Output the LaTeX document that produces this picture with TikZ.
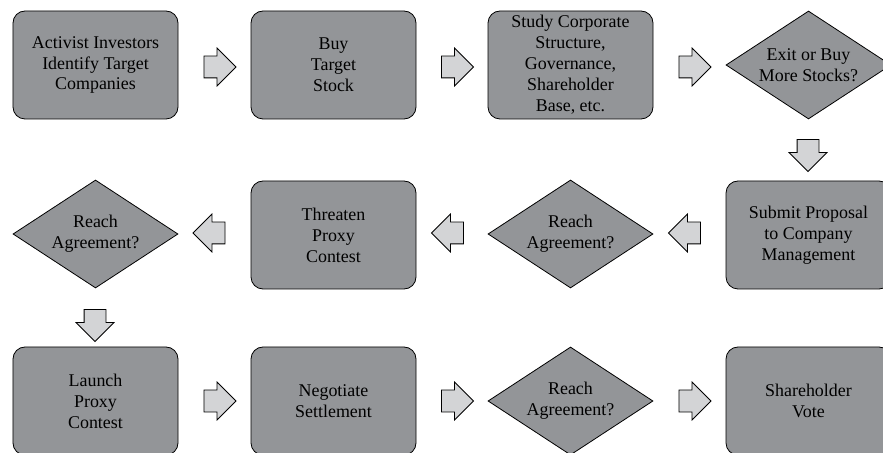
\documentclass[tikz,border=0pt]{standalone}
\usepackage{fontspec}
\setmainfont{Liberation Serif}
\usetikzlibrary{arrows,shapes}
\definecolor{boxgray}{RGB}{147,149,152}
\definecolor{arrowgray}{RGB}{211,212,214}

\begin{document}
\begin{tikzpicture}[x=1bp,y=1bp]
                \tikzstyle{every node}+=[font=\fontsize{18}{21}\selectfont, align=center]
                \tikzstyle{stepbox}=[draw=black, fill=boxgray, line width=0.8bp, rounded corners=12bp, minimum width=165bp, minimum height=108bp]
                \tikzstyle{choice}=[draw=black, fill=boxgray, line width=0.8bp, diamond, aspect=1.53, inner sep=0pt, minimum width=165bp, minimum height=108bp]
                \tikzstyle{blockarrow}=[draw=black, fill=arrowgray, line width=0.8bp, single arrow, single arrow head extend=8bp, inner xsep=0pt, inner ysep=10.5bp, minimum height=32bp]
                \useasboundingbox (0,0) rectangle (883,-453);
                \clip (0,0) rectangle (883,-453);
                % first row
                \node [stepbox] (identify) at (95.5,-65) {Activist Investors\\Identify Target\\Companies};
                \node [stepbox] (buy) at (333.5,-65) {Buy\\Target\\Stock};
                \node [stepbox] (study) at (570.5,-65) {Study Corporate\\Structure,\\Governance,\\Shareholder\\Base, etc.};
                \node [choice] (exit) at (808.5,-65) {Exit or Buy\\More Stocks?};
                % second row
                \node [stepbox] (submit) at (808.5,-235) {Submit Proposal\\to Company\\Management};
                \node [choice] (reach1) at (570.5,-234) {Reach\\Agreement?};
                \node [stepbox] (threaten) at (333.5,-235) {Threaten\\Proxy\\Contest};
                \node [choice] (reach2) at (95.5,-234) {Reach\\Agreement?};
                % third row
                \node [stepbox] (launch) at (95.5,-401) {Launch\\Proxy\\Contest};
                \node [stepbox] (negotiate) at (333.5,-401) {Negotiate\\Settlement};
                \node [choice] (reach3) at (570.5,-401) {Reach\\Agreement?};
                \node [stepbox] (vote) at (808.5,-401) {Shareholder\\Vote};
                % block arrows
                \node [blockarrow] (a1) at (214.5,-67) {};
                \node [blockarrow] (a2) at (452,-67) {};
                \node [blockarrow] (a3) at (689.5,-67) {};
                \node [blockarrow, rotate=-90] (a4) at (808,-150) {};
                \node [blockarrow, shape border rotate=180] (a5) at (690,-233) {};
                \node [blockarrow, shape border rotate=180] (a6) at (453,-233) {};
                \node [blockarrow, shape border rotate=180] (a7) at (214.5,-233) {};
                \node [blockarrow, rotate=-90] (a8) at (95,-320) {};
                \node [blockarrow] (a9) at (214.5,-401) {};
                \node [blockarrow] (a10) at (452,-401) {};
                \node [blockarrow] (a11) at (689.5,-401) {};
\end{tikzpicture}
\end{document}
